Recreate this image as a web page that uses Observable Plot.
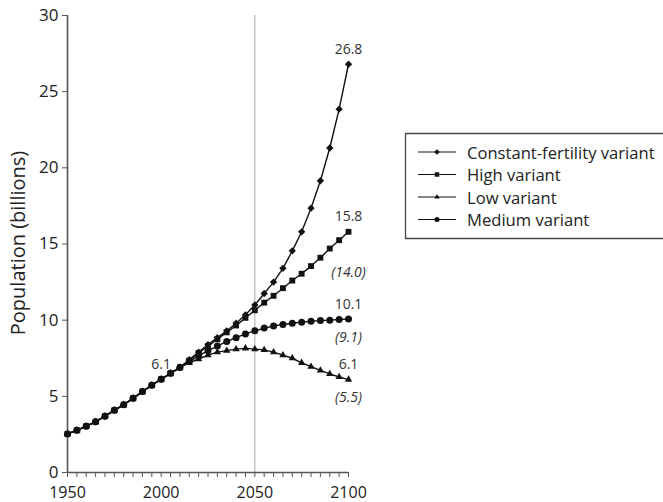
<!DOCTYPE html>
<html><head><meta charset="utf-8">
<script src="https://cdn.jsdelivr.net/npm/d3@7"></script>
<script src="https://cdn.jsdelivr.net/npm/@observablehq/plot@0.6"></script>
<style>
html,body{margin:0;padding:0;background:#fff;overflow:hidden;}
#chart svg{display:block;}
</style></head><body><div id="chart"></div>
<script>
// ---- data ----
const historyYears = [1950,1955,1960,1965,1970,1975,1980,1985,1990,1995,2000,2005,2010];
const historyValues = [2.53,2.77,3.04,3.33,3.70,4.08,4.45,4.87,5.31,5.73,6.12,6.51,6.90];
const projYears = [2015,2020,2025,2030,2035,2040,2045,2050,2055,2060,2065,2070,2075,2080,2085,2090,2095,2100];
const constantFertility = [7.40,7.90,8.40,8.85,9.30,9.80,10.35,11.00,11.75,12.50,13.40,14.55,15.80,17.35,19.15,21.30,23.85,26.80];
const highVariant = [7.35,7.85,8.30,8.75,9.20,9.65,10.15,10.65,11.15,11.60,12.10,12.60,13.05,13.55,14.10,14.70,15.25,15.80];
const lowVariant = [7.20,7.45,7.70,7.90,8.00,8.10,8.15,8.10,8.05,7.90,7.70,7.50,7.20,6.95,6.70,6.47,6.27,6.10];
const mediumVariant = [7.28,7.66,8.00,8.30,8.60,8.85,9.10,9.30,9.48,9.62,9.72,9.80,9.87,9.93,9.97,10.00,10.04,10.07];
const seriesNames = ["Constant-fertility variant","High variant","Low variant","Medium variant"];
const xTickYears = [1950,1955,1960,1965,1970,1975,1980,1985,1990,1995,2000,2005,2010,2015,2020,2025,2030,2035,2040,2045,2050,2055,2060,2065,2070,2075,2080,2085,2090,2095,2100];
const xTickLabels = [1950,2000,2050,2100];
const yTicks = [0,5,10,15,20,25,30];
const endLabels = ["26.8","15.8","6.1","10.1"];           // value at 2100 per series
const altLabels = [null,"(14.0)","(5.5)","(9.1)"];       // earlier-revision figures
const startLabel = {year: 2000, text: "6.1"};
const yLabel = "Population (billions)";

// ---- tidy table ----
const seriesValues = [constantFertility, highVariant, lowVariant, mediumVariant];
const rows = [];
seriesNames.forEach((name, i) => {
  historyYears.forEach((yr, j) => rows.push({year: yr, value: historyValues[j], series: name}));
  projYears.forEach((yr, j) => rows.push({year: yr, value: seriesValues[i][j], series: name}));
});
const lastOf = name => rows.filter(r => r.series === name && r.year === 2100)[0];
const endRows = seriesNames.map((n, i) => ({...lastOf(n), text: endLabels[i], alt: altLabels[i]}));
const startRow = {year: startLabel.year, value: historyValues[historyYears.indexOf(startLabel.year)], text: startLabel.text};

const symbols = ["diamond2","square","triangle2","circle"];
const symR = [3.3, 3.3, 3.5, 3.5];
const font = "'Open Sans', sans-serif";

const chart = Plot.plot({
  width: 663, height: 502,
  marginLeft: 67, marginRight: 315, marginTop: 15, marginBottom: 30,
  style: {fontFamily: font, background: "#fff", color: "#222"},
  x: {domain: [1950, 2100]},
  y: {domain: [0, 30]},
  marks: [
    Plot.ruleX([2050], {y1: 0, y2: 30, stroke: "#a8a8a8", strokeWidth: 1}),
    Plot.axisY({ticks: yTicks, tickSize: 5, tickPadding: 4, fontSize: 17, label: null, stroke: "#555", tickFormat: d => String(d)}),
    Plot.axisX({ticks: xTickYears, tickSize: 5, tickPadding: 9, fontSize: 16, label: null, stroke: "#555",
      tickFormat: d => xTickLabels.includes(d) ? String(d) : ""}),
    Plot.ruleX([1950], {y1: 0, y2: 30, stroke: "#555", strokeWidth: 1.6}),
    Plot.ruleY([0], {x1: 1950, x2: 2100, stroke: "#555", strokeWidth: 1.6}),
    Plot.line(rows, {x: "year", y: "value", z: "series", stroke: "#111", strokeWidth: 1.4}),
    ...seriesNames.map((name, i) => Plot.dot(rows.filter(r => r.series === name),
      {x: "year", y: "value", symbol: () => symbols[i], r: symR[i], fill: "#111", stroke: "none"})),
    Plot.text(endRows, {x: "year", y: "value", text: "text", dy: -15, fontSize: 14, fill: "#333"}),
    Plot.text(endRows.filter(d => d.alt === "(14.0)"), {x: "year", y: "value", text: "alt", dy: 41, fontSize: 14, fontStyle: "italic", fill: "#333"}),
    Plot.text(endRows.filter(d => d.alt === "(9.1)" || d.alt === "(5.5)"), {x: "year", y: "value", text: "alt", dy: 18, fontSize: 14, fontStyle: "italic", fill: "#333"}),
    Plot.text([startRow], {x: "year", y: "value", text: "text", dy: -15, fontSize: 14, fill: "#333"})
  ]
});

// y-axis title and legend
const svg = d3.select(chart);
svg.append("text")
  .attr("transform", "translate(17,243) rotate(-90)")
  .attr("text-anchor", "middle").attr("dominant-baseline", "central")
  .attr("font-size", 20).attr("fill", "#222").attr("font-family", font)
  .text(yLabel);

const lg = svg.append("g").attr("text-anchor", "start");
lg.append("path").attr("d", "M670,133.5H405.5V238.5H670").attr("fill", "none").attr("stroke", "#444").attr("stroke-width", 1.3);
const rowY = [152, 174.5, 197, 219.5];
const d3sym = {diamond2: d3.symbolDiamond2, square: d3.symbolSquare, triangle2: d3.symbolTriangle2, circle: d3.symbolCircle};
seriesNames.forEach((name, i) => {
  const y = rowY[i];
  lg.append("line").attr("x1", 418).attr("x2", 456).attr("y1", y).attr("y2", y).attr("stroke", "#111").attr("stroke-width", 1.2);
  lg.append("path").attr("d", d3.symbol(d3sym[symbols[i]], 20)()).attr("transform", `translate(437,${y})`).attr("fill", "#111");
  lg.append("text").attr("x", 467).attr("y", y).attr("dominant-baseline", "central").attr("text-anchor", "start")
    .attr("font-size", 16.6).attr("fill", "#222").attr("font-family", font).text(name);
});

document.getElementById("chart").appendChild(chart);
</script></body></html>
